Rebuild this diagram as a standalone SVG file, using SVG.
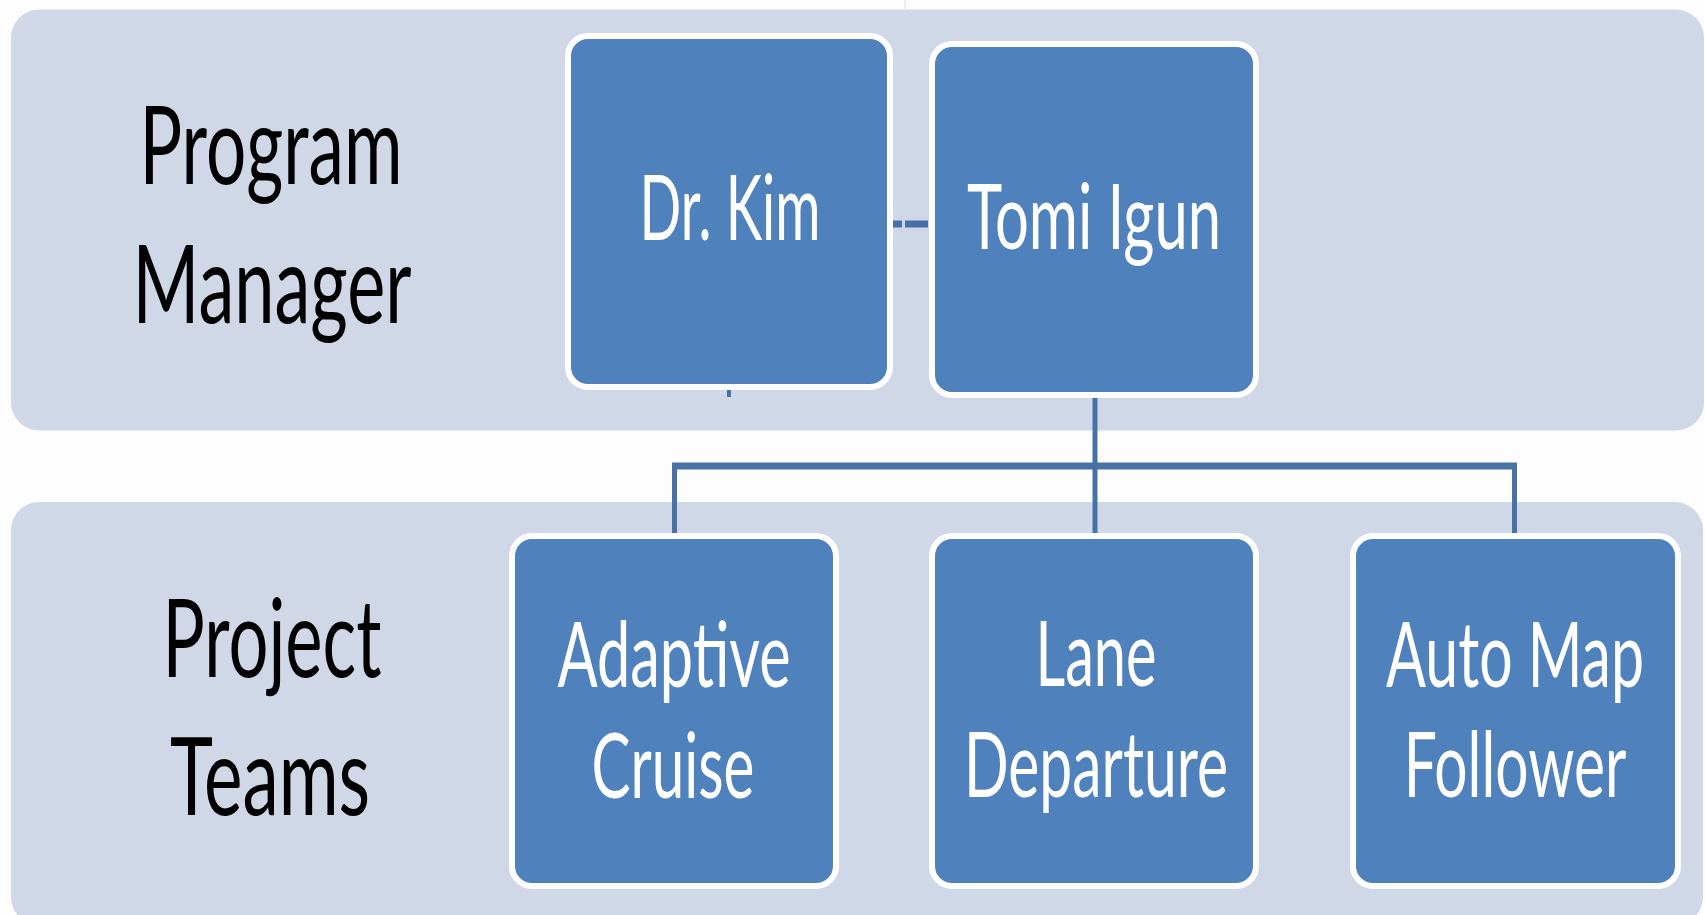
<svg xmlns="http://www.w3.org/2000/svg" width="1705" height="915" viewBox="0 0 1705 915">
<style>
.band{fill:#d0d8e8}
.box{fill:#4f81bd;stroke:#ffffff;stroke-width:6}
.lbl{font-family:Lato,"Open Sans","Liberation Sans",sans-serif;font-size:108px;fill:#000000;text-anchor:middle}
.wt{font-family:Lato,"Open Sans","Liberation Sans",sans-serif;font-size:92px;fill:#ffffff;text-anchor:middle}
.con{stroke:#4672a8;fill:none}
</style>
<rect x="0" y="0" width="1705" height="915" fill="#fdfdfd"/>
<line x1="905" y1="0" x2="905" y2="9" stroke="#d5d9e2" stroke-width="1"/>
<g id="band-program">
<rect class="band" x="11" y="9.5" width="1693" height="421" rx="28" ry="28"/>
<text class="lbl" transform="translate(271 0) scale(0.55 1)" x="0" y="184" textLength="478" lengthAdjust="spacingAndGlyphs">Program</text>
<text class="lbl" transform="translate(272 0) scale(0.55 1)" x="0" y="323" textLength="507" lengthAdjust="spacingAndGlyphs">Manager</text>
</g>
<g id="band-project">
<rect class="band" x="11" y="502" width="1692" height="423" rx="28" ry="28"/>
<text class="lbl" transform="translate(272 0) scale(0.55 1)" x="0" y="677" textLength="398" lengthAdjust="spacingAndGlyphs">Project</text>
<text class="lbl" transform="translate(270 0) scale(0.55 1)" x="0" y="815" textLength="364" lengthAdjust="spacingAndGlyphs">Teams</text>
</g>
<g id="connectors">
<line class="con" x1="893" y1="224" x2="928" y2="224" stroke-width="7" stroke-dasharray="9 3 23"/>
<line class="con" x1="729" y1="388" x2="729" y2="397" stroke-width="4"/>
<line class="con" x1="1095" y1="396" x2="1095" y2="533" stroke-width="5"/>
<line class="con" x1="672" y1="466" x2="1517" y2="466" stroke-width="7"/>
<line class="con" x1="674.5" y1="463" x2="674.5" y2="533" stroke-width="5"/>
<line class="con" x1="1514.5" y1="463" x2="1514.5" y2="533" stroke-width="5"/>
</g>
<g id="node-drkim">
<rect class="box" x="568" y="36" width="322" height="351" rx="20" ry="20"/>
<text class="wt" transform="translate(730 0) scale(0.55 1)" x="0" y="240" textLength="329" lengthAdjust="spacingAndGlyphs">Dr. Kim</text>
</g>
<g id="node-tomi">
<rect class="box" x="932" y="44" width="324" height="351" rx="20" ry="20"/>
<text class="wt" transform="translate(1094 0) scale(0.55 1)" x="0" y="249" textLength="462" lengthAdjust="spacingAndGlyphs">Tomi Igun</text>
</g>
<g id="node-adaptive">
<rect class="box" x="512" y="536" width="324" height="350" rx="20" ry="20"/>
<text class="wt" transform="translate(674 0) scale(0.55 1)" x="0" y="687" textLength="424" lengthAdjust="spacingAndGlyphs">Adaptive</text>
<text class="wt" transform="translate(673 0) scale(0.55 1)" x="0" y="798" textLength="296" lengthAdjust="spacingAndGlyphs">Cruise</text>
</g>
<g id="node-lane">
<rect class="box" x="932" y="536" width="324" height="350" rx="20" ry="20"/>
<text class="wt" transform="translate(1096 0) scale(0.55 1)" x="0" y="686" textLength="220" lengthAdjust="spacingAndGlyphs">Lane</text>
<text class="wt" transform="translate(1096 0) scale(0.55 1)" x="0" y="797" textLength="480" lengthAdjust="spacingAndGlyphs">Departure</text>
</g>
<g id="node-automap">
<rect class="box" x="1353" y="536" width="325" height="350" rx="20" ry="20"/>
<text class="wt" transform="translate(1515 0) scale(0.55 1)" x="0" y="687" textLength="469" lengthAdjust="spacingAndGlyphs">Auto Map</text>
<text class="wt" transform="translate(1515 0) scale(0.55 1)" x="0" y="797" textLength="405" lengthAdjust="spacingAndGlyphs">Follower</text>
</g>
</svg>
